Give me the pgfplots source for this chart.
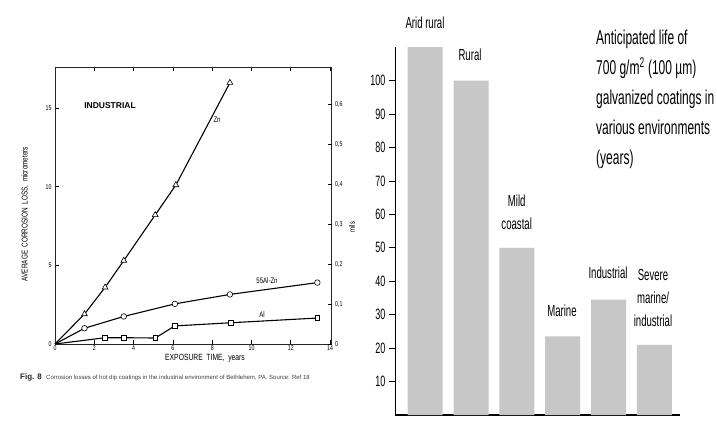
\documentclass[border=0pt]{standalone}
\usepackage{pgfplots}
\pgfplotsset{compat=1.18}
\usepackage{fontspec}
\setmainfont{Liberation Sans}
\newfontfamily\cond[FakeStretch=0.6]{Liberation Sans}
\newfontfamily\condb[FakeStretch=0.75]{Liberation Sans}
\begin{document}
\begin{tikzpicture}
\useasboundingbox (0,0) rectangle (717pt,423pt);
\fill[white] (0,0) rectangle (717pt,423pt);
% ---------------- left chart: corrosion losses ----------------
\begin{axis}[at={(55pt,79pt)}, anchor=south west, scale only axis,
  width=276.7pt, height=277pt,
  xmin=0, xmax=14.08, ymin=0, ymax=17.6,
  xtick={0,2,4,6,8,10,12,14}, ytick={0,5,10,15},
  xtick pos=both, ytick pos=left, xticklabel pos=bottom,
  tick align=inside, major tick length=4pt,
  tick style={black, line width=0.8pt},
  axis line style={line width=0.8pt, black!85},
  tick label style={font=\condb\fontsize{7}{8}\selectfont},
  xticklabel style={yshift=2pt},
  /pgf/number format/assume math mode=true,
  clip=false]
\addplot[black, line width=1.1pt, mark=triangle*, mark size=3.4pt,
  mark options={fill=white, line width=0.6pt}, mark indices={2,3,4,5,6,7}]
  coordinates {(0,0) (1.5,1.9) (2.55,3.6) (3.5,5.3) (5.1,8.2) (6.15,10.1) (8.9,16.6)};
\addplot[black, line width=1.1pt, mark=*, mark size=2.8pt,
  mark options={fill=white, line width=0.6pt}, mark indices={2,3,4,5,6}]
  coordinates {(0,0) (1.5,1.0) (3.5,1.75) (6.1,2.55) (8.9,3.15) (13.35,3.9)};
\addplot[black, line width=1.1pt, mark=square*, mark size=2.4pt,
  mark options={fill=white, line width=0.6pt}, mark indices={2,3,4,5,6,7}]
  coordinates {(0,0) (2.55,0.4) (3.5,0.4) (5.1,0.38) (6.1,1.15) (8.95,1.35) (13.35,1.65)};
\end{axis}
\begin{axis}[at={(55pt,79pt)}, anchor=south west, scale only axis,
  width=276.7pt, height=277pt,
  xmin=0, xmax=14.08, ymin=0, ymax=0.6929,
  axis x line=none, axis y line*=right,
  axis line style={draw=none},
  ytick={0,0.1,0.2,0.3,0.4,0.5,0.6},
  yticklabels={0,{0,1},{0,2},{0,3},{0,4},{0,5},{0,6}},
  tick align=inside, major tick length=4pt,
  tick style={black, line width=0.8pt},
  tick label style={font=\condb\fontsize{7}{8}\selectfont}]
\addplot[draw=none] coordinates {(0,0)};
\end{axis}
\node[font=\bfseries\fontsize{8.5}{9}\selectfont] at (110pt,317pt) {INDUSTRIAL};
\node[font=\condb\fontsize{8}{9}\selectfont] at (217pt,303pt) {Zn};
\node[font=\condb\fontsize{8}{9}\selectfont] at (267pt,142pt) {55Al-Zn};
\node[font=\condb\fontsize{8}{9}\selectfont] at (262pt,108pt) {Al};
\node[rotate=90, font=\condb\fontsize{8.5}{9}\selectfont] at (25pt,209pt)
  {AVERAGE\ \ CORROSION\ \ LOSS,\ \ micrometers};
\node[font=\condb\fontsize{9}{10}\selectfont] at (205pt,65pt) {EXPOSURE\ \ TIME,\ \ years};
\node[rotate=90, font=\condb\fontsize{8}{9}\selectfont] at (352pt,196pt) {mils};
\node[anchor=base west, inner sep=0pt, font=\bfseries\fontsize{8}{9}\selectfont, text=black!85] at (20pt,44pt) {Fig. 8};
\node[anchor=base west, inner sep=0pt, font=\fontsize{6}{7}\selectfont, text=black!75] at (46pt,44pt)
  {Corrosion losses of hot dip coatings in the industrial environment of Bethlehem, PA. Source: Ref 18};
% ---------------- right chart: anticipated life ----------------
\begin{axis}[at={(395pt,8pt)}, anchor=south west, scale only axis,
  width=285pt, height=367.8pt,
  xmin=-0.66, xmax=5.56, ymin=0, ymax=110,
  axis x line*=bottom, axis y line*=left,
  axis line style={-, black},
  x axis line style={line width=1.6pt},
  y axis line style={line width=0.8pt},
  xtick=\empty, ytick={10,20,30,40,50,60,70,80,90,100},
  tick align=outside, major tick length=6pt,
  ytick style={line width=0.8pt, black},
  yticklabel style={font=\cond\fontsize{15}{15}\selectfont},
  /pgf/number format/assume math mode=true,
  ybar, bar width=35pt, clip=false]
\addplot[fill=black!22, draw=none] coordinates {(0,110) (1,100) (2,50) (3,23.5) (4,34.5) (5,21)};
\end{axis}
\begin{scope}[every node/.style={font=\cond\fontsize{16}{23}\selectfont, align=center}]
\node at (425pt,400pt) {Arid rural};
\node at (470pt,368pt) {Rural};
\node at (516.7pt,211pt) {Mild\\coastal};
\node at (562pt,112pt) {Marine};
\node at (608pt,150pt) {Industrial};
\node at (653pt,125pt) {Severe\\marine/\\industrial};
\end{scope}
\node[anchor=north west, align=left, inner sep=0pt, font=\cond\fontsize{20}{30}\selectfont] at (596pt,393pt)
  {Anticipated life of\\700 g/m\textsuperscript{2} (100 µm)\\galvanized coatings in\\various environments\\(years)};
\end{tikzpicture}
\end{document}
